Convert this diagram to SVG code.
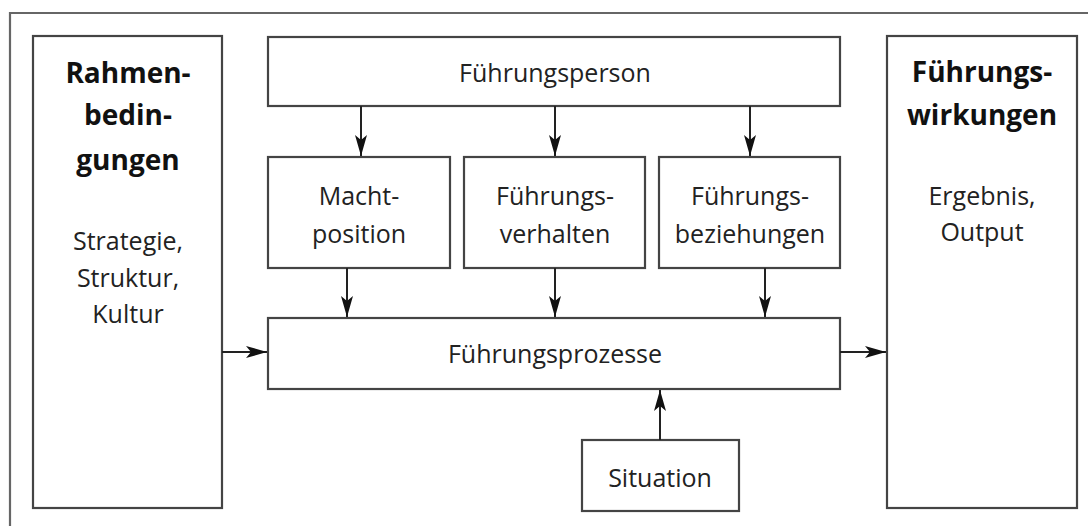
<svg xmlns="http://www.w3.org/2000/svg" width="1088" height="526" viewBox="0 0 1088 526">
<defs>
<marker id="arr" markerUnits="userSpaceOnUse" markerWidth="22" markerHeight="14" refX="21" refY="7" orient="auto">
<path d="M0,1 L21,7 L0,13 L5,7 z" fill="#111"/>
</marker>
<style>
.box{fill:#fff;stroke:#444;stroke-width:2.2}
.t{font-family:"Open Sans","Noto Sans",sans-serif;font-size:25px;fill:#222;text-anchor:middle}
.b{font-family:"Open Sans","Noto Sans",sans-serif;font-size:28px;font-weight:bold;fill:#111;text-anchor:middle}
.c{stroke:#222;stroke-width:2;fill:none;marker-end:url(#arr)}
</style>
</defs>
<rect width="1088" height="526" fill="#fff"/>
<path d="M10,526 V13 H1088" fill="none" stroke="#666" stroke-width="2.2"/>
<g id="rahmen">
<rect class="box" x="33" y="36" width="189" height="472"/>
<text class="b" x="128" y="83">Rahmen-</text>
<text class="b" x="128" y="125">bedin-</text>
<text class="b" x="128" y="170">gungen</text>
<text class="t" x="128" y="250">Strategie,</text>
<text class="t" x="128" y="287">Struktur,</text>
<text class="t" x="128" y="323">Kultur</text>
</g>
<g id="wirkungen">
<rect class="box" x="887" y="36" width="190" height="472"/>
<text class="b" x="982" y="82">Führungs-</text>
<text class="b" x="982" y="125">wirkungen</text>
<text class="t" x="982" y="205">Ergebnis,</text>
<text class="t" x="982" y="241">Output</text>
</g>
<g id="person">
<rect class="box" x="268" y="37" width="572" height="69"/>
<text class="t" x="555" y="82">Führungsperson</text>
</g>
<g id="macht">
<rect class="box" x="268" y="157" width="182" height="111"/>
<text class="t" x="359" y="205">Macht-</text>
<text class="t" x="359" y="243">position</text>
</g>
<g id="verhalten">
<rect class="box" x="464" y="157" width="181" height="111"/>
<text class="t" x="555" y="205">Führungs-</text>
<text class="t" x="555" y="243">verhalten</text>
</g>
<g id="beziehungen">
<rect class="box" x="659" y="157" width="181" height="111"/>
<text class="t" x="750" y="205">Führungs-</text>
<text class="t" x="750" y="243">beziehungen</text>
</g>
<g id="prozesse">
<rect class="box" x="268" y="318" width="572" height="71"/>
<text class="t" x="555" y="363">Führungsprozesse</text>
</g>
<g id="situation">
<rect class="box" x="582" y="440" width="157" height="71"/>
<text class="t" x="660" y="487">Situation</text>
</g>
<g id="connectors">
<line class="c" x1="361" y1="106" x2="361" y2="156"/>
<line class="c" x1="555" y1="106" x2="555" y2="156"/>
<line class="c" x1="750" y1="106" x2="750" y2="156"/>
<line class="c" x1="347" y1="268" x2="347" y2="317"/>
<line class="c" x1="555" y1="268" x2="555" y2="317"/>
<line class="c" x1="765" y1="268" x2="765" y2="317"/>
<line class="c" x1="222" y1="352" x2="267" y2="352"/>
<line class="c" x1="840" y1="352" x2="886" y2="352"/>
<line class="c" x1="660" y1="440" x2="660" y2="390"/>
</g>
</svg>
